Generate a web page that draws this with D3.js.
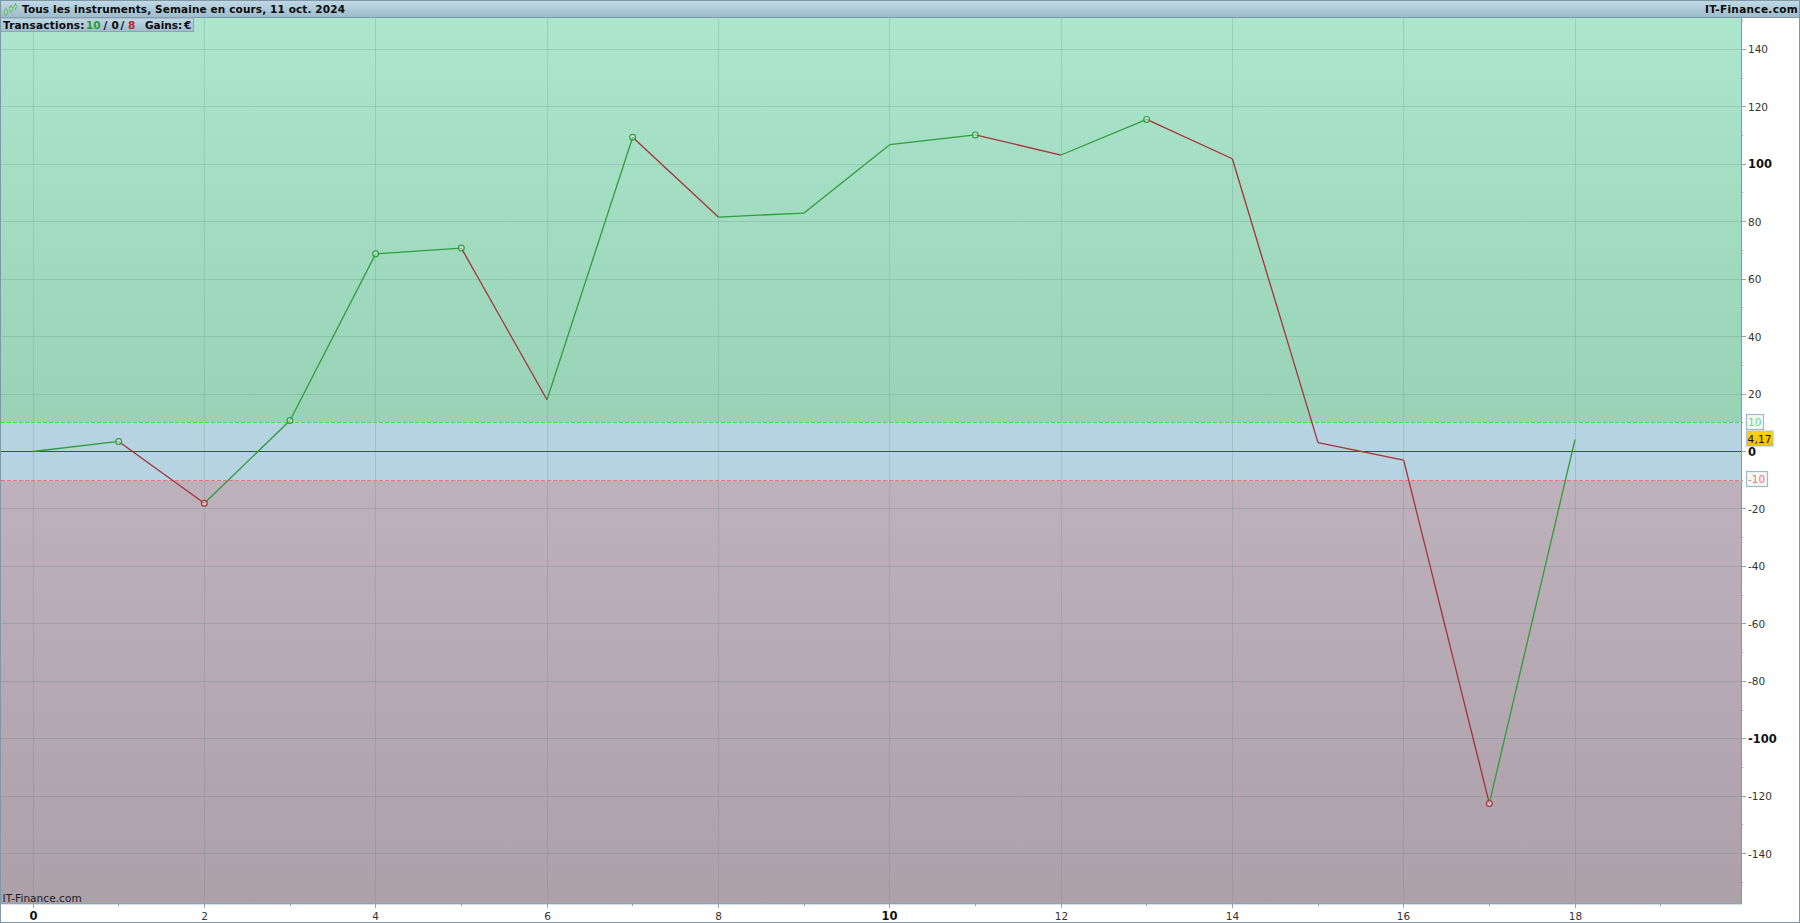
<!DOCTYPE html>
<html><head><meta charset="utf-8">
<style>
html,body{margin:0;padding:0;background:#fff;overflow:hidden}
svg{display:block}
text{font-family:"DejaVu Sans",sans-serif}
</style>
<script src="https://cdn.jsdelivr.net/npm/d3@7"></script>
</head><body><div id="chart"></div>
<script>
const equity=[0,3.5,-18,10.8,68.8,70.8,18,109.4,81.6,83,106.8,110.2,103.2,115.6,101.9,3.1,-3,-122.5,4.17];
const markerIdx=[1,2,3,4,5,7,11,13,17];
const xTicks=[0,2,4,6,8,10,12,14,16,18];
const xMinor=[1,3,5,7,9,11,13,15,17,19];
const yTicks=[140,120,100,80,60,40,20,0,-20,-40,-60,-80,-100,-120,-140];
const yMinor=[150,130,110,90,70,50,30,10,-10,-30,-50,-70,-90,-110,-130,-150];
const boldX=[0,10], boldY=[0,100,-100];
const upper=10, lower=-10, lastVal="4,17";
const titleText="Tous les instruments, Semaine en cours, 11 oct. 2024";
const brand="IT-Finance.com";
const W=1800,H=923,L=1,R=1741,T=17,B=903;
const x=d3.scaleLinear().domain([0,18]).range([33,1575]);
const y=d3.scaleLinear().domain([140,-140]).range([49.3,853.7]);
const sx=d=>Math.floor(x(d))+.5, sy=d=>Math.floor(y(d))+.5;
const svg=d3.select("#chart").append("svg").attr("width",W).attr("height",H);
const defs=svg.append("defs");
function grad(id,stops){const g=defs.append("linearGradient").attr("id",id).attr("x1",0).attr("y1",0).attr("x2",0).attr("y2",1);
 stops.forEach(s=>g.append("stop").attr("offset",s[0]).attr("stop-color",s[1]));}
grad("gTop",[[0,"#abe6cd"],[1,"#98d3b6"]]);
grad("gBot",[[0,"#bdb1bc"],[1,"#aca0a9"]]);
grad("gBar",[[0,"#c2dae6"],[1,"#9dbccd"]]);
grad("gGold",[[0,"#ffd21a"],[1,"#f2bd00"]]);
svg.append("rect").attr("x",0).attr("y",0).attr("width",W).attr("height",H).attr("fill","#fff");
svg.append("rect").attr("x",L).attr("y",T).attr("width",R-L).attr("height",sy(upper)-T).attr("fill","url(#gTop)");
svg.append("rect").attr("x",L).attr("y",sy(upper)).attr("width",R-L).attr("height",sy(lower)-sy(upper)).attr("fill","#b5d3e1");
svg.append("rect").attr("x",L).attr("y",sy(lower)).attr("width",R-L).attr("height",B-sy(lower)).attr("fill","url(#gBot)");
// grid
svg.append("g").selectAll("line").data(xTicks).join("line").attr("x1",sx).attr("x2",sx).attr("y1",T).attr("y2",B).attr("stroke","#5f7f78").attr("stroke-opacity",.22);
svg.append("g").selectAll("line").data(yTicks.filter(d=>d!==0)).join("line").attr("x1",L).attr("x2",R).attr("y1",sy).attr("y2",sy).attr("stroke","#5f7f78").attr("stroke-opacity",.22);
// plot frame
svg.append("line").attr("x1",R+.5).attr("x2",R+.5).attr("y1",T).attr("y2",B).attr("stroke","#7f9aa0");
svg.append("line").attr("x1",L).attr("x2",R+1).attr("y1",B+.5).attr("y2",B+.5).attr("stroke","#8fa3b5");
svg.append("line").attr("x1",L).attr("x2",R+1).attr("y1",B+1.5).attr("y2",B+1.5).attr("stroke","#d5e2ea");
// threshold lines
svg.append("line").attr("x1",L).attr("x2",R).attr("y1",sy(upper)).attr("y2",sy(upper)).attr("stroke","#44dd55").attr("stroke-dasharray","4,2");
svg.append("line").attr("x1",L).attr("x2",R).attr("y1",sy(lower)).attr("y2",sy(lower)).attr("stroke","#e8737a").attr("stroke-dasharray","4,2");
svg.append("line").attr("x1",L).attr("x2",R).attr("y1",sy(0)).attr("y2",sy(0)).attr("stroke","#2a46b0");
// ticks
const ax=svg.append("g");
ax.selectAll(".yt").data(yTicks).join("line").attr("x1",R+1).attr("x2",R+5).attr("y1",sy).attr("y2",sy).attr("stroke","#8fa3ad");
ax.selectAll(".ym").data(yMinor).join("line").attr("x1",R).attr("x2",R+2).attr("y1",sy).attr("y2",sy).attr("stroke","#8fa3ad");
ax.selectAll(".xt").data(xTicks).join("line").attr("x1",sx).attr("x2",sx).attr("y1",B).attr("y2",B+5).attr("stroke","#8fa3b5");
ax.selectAll(".xm").data(xMinor).join("line").attr("x1",sx).attr("x2",sx).attr("y1",B).attr("y2",B+3).attr("stroke","#8fa3b5");
ax.selectAll(".yl").data(yTicks).join("text").attr("x",R+7).attr("y",d=>y(d)+4)
 .attr("font-size",d=>boldY.includes(d)?11.5:10.5).attr("fill",d=>boldY.includes(d)?"#111":"#333")
 .attr("font-weight",d=>boldY.includes(d)?"bold":"normal").text(d=>d);
ax.selectAll(".xl").data(xTicks).join("text").attr("x",sx).attr("y",d=>boldX.includes(d)?920:919.5).attr("text-anchor","middle")
 .attr("font-size",d=>boldX.includes(d)?11.5:10.5).attr("fill",d=>boldX.includes(d)?"#111":"#333")
 .attr("font-weight",d=>boldX.includes(d)?"bold":"normal").text(d=>d);
// equity
const segs=d3.pairs(equity.map((v,i)=>[i,v]));
svg.append("g").selectAll("line").data(segs).join("line")
 .attr("x1",d=>x(d[0][0])).attr("y1",d=>y(d[0][1])).attr("x2",d=>x(d[1][0])).attr("y2",d=>y(d[1][1]))
 .attr("stroke",d=>d[1][1]>=d[0][1]?"#2f9e3a":"#a83238").attr("stroke-width",1.3);
svg.append("g").selectAll("circle").data(markerIdx).join("circle")
 .attr("cx",d=>x(d)).attr("cy",d=>y(equity[d])).attr("r",2.9).attr("fill","#ffffff").attr("fill-opacity",.4).attr("stroke-width",1.2)
 .attr("stroke",d=>equity[d]>equity[d-1]?"#2f9e3a":"#a83238");
// top bar
svg.append("rect").attr("x",0).attr("y",0).attr("width",W).attr("height",17).attr("fill","url(#gBar)");
svg.append("line").attr("x1",0).attr("x2",W).attr("y1",17.5).attr("y2",17.5).attr("stroke","#7f98a8");
// icon
const ic=svg.append("g");
[[6,8,16],[11,5,13],[15.5,3,10]].forEach(c=>{
 ic.append("line").attr("x1",c[0]).attr("x2",c[0]).attr("y1",c[1]).attr("y2",c[2]).attr("stroke","#63b863");
 ic.append("rect").attr("x",c[0]-1.5).attr("y",c[1]+2).attr("width",3).attr("height",c[2]-c[1]-4).attr("fill","#a8e0a0").attr("stroke","#5fb85f").attr("stroke-width",.7);
});
svg.append("text").attr("x",22).attr("y",13).attr("font-size",10.5).attr("font-weight","bold").attr("letter-spacing",.12).attr("fill","#0a0a0a").text(titleText);
svg.append("text").attr("x",W-2).attr("y",13).attr("text-anchor","end").attr("font-size",10.5).attr("font-weight","bold").attr("letter-spacing",.32).attr("fill","#0a0a0a").text(brand);
// info box
svg.append("rect").attr("x",.5).attr("y",18).attr("width",193).attr("height",13.5).attr("fill","url(#gBar)").attr("stroke","#8ea4b2");
const info=[["Transactions:",3,"#0a0a0a",.2],["10",86,"#27a027",0],["/",103.5,"#0a0a0a",0],["0",111.5,"#0a0a0a",0],["/",120.5,"#0a0a0a",0],["8",128,"#b02a2a",0],["Gains:",145,"#0a0a0a",0],["€",184,"#0a0a0a",0]];
svg.append("g").selectAll("text").data(info).join("text").attr("x",d=>d[1]).attr("y",29).attr("font-size",10.5).attr("font-weight","bold").attr("letter-spacing",d=>d[3]).attr("fill",d=>d[2]).text(d=>d[0]);
// watermark
svg.append("text").attr("x",2.5).attr("y",902).attr("font-size",10.5).attr("letter-spacing",.07).attr("fill","#222").text(brand);
// level labels
function tag(v,txt,w,col){const g=svg.append("g");
 g.append("rect").attr("x",1746.5).attr("y",Math.round(y(v))-8.5).attr("width",w).attr("height",15).attr("fill","#f4f6f6").attr("stroke","#a6bac4").attr("stroke-width",1.2);
 g.append("text").attr("x",1748).attr("y",Math.round(y(v))+3).attr("font-size",10.5).attr("fill",col).text(txt);}
tag(upper,String(upper),17,"#66dd77");
tag(lower,String(lower),21,"#e87b80");
svg.append("rect").attr("x",1746.5).attr("y",431).attr("width",26.5).attr("height",15).attr("fill","url(#gGold)").attr("stroke","#b4c4cc").attr("stroke-width",1.2);
svg.append("text").attr("x",1747.5).attr("y",442.5).attr("font-size",10.5).attr("letter-spacing",.2).attr("fill","#111").text(lastVal);
// outer border
svg.append("rect").attr("x",.5).attr("y",.5).attr("width",W-1).attr("height",H-1).attr("fill","none").attr("stroke","#7f98a8");
</script></body></html>
